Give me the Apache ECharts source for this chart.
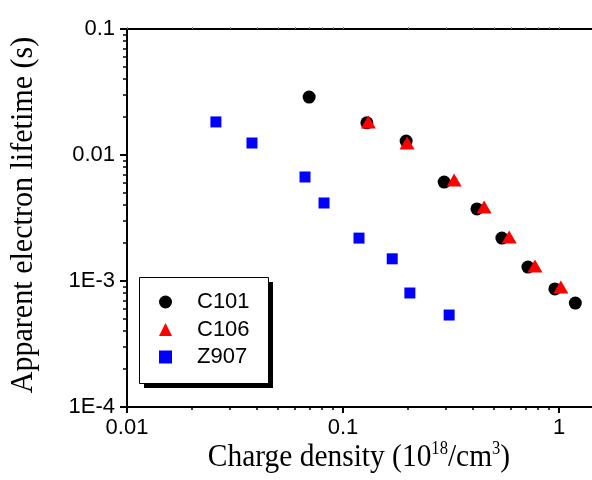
<!DOCTYPE html>
<html><head><meta charset="utf-8">
<script src="https://cdn.jsdelivr.net/npm/echarts@6/dist/echarts.min.js"></script>
<style>html,body{margin:0;padding:0;background:#fff}#c{width:592px;height:480px}</style>
</head><body><div id="c"></div>
<script>
// Data (charge density in 1e18/cm3, lifetime in s)
const c101X = [0.0697, 0.129, 0.196, 0.294, 0.417, 0.544, 0.718, 0.957, 1.19];
const c101Y = [0.0288, 0.0180, 0.0129, 0.0061, 0.00373, 0.00219, 0.00129, 0.000865, 0.000668];
const c106X = [0.131, 0.198, 0.327, 0.450, 0.588, 0.774, 1.02];
const c106Y = [0.0183, 0.01245, 0.00634, 0.00387, 0.00223, 0.001315, 0.000896];
const z907X = [0.0258, 0.0379, 0.0667, 0.0817, 0.1186, 0.169, 0.204, 0.310];
const z907Y = [0.0183, 0.01245, 0.00669, 0.00416, 0.00219, 0.0015, 0.000803, 0.000537];
const seriesNames = ['C101', 'C106', 'Z907'];
const yTickLabels = {'0.1': '0.1', '0.01': '0.01', '0.001': '1E-3', '0.0001': '1E-4'};
const xMinor = [0.02,0.03,0.04,0.05,0.06,0.07,0.08,0.09,0.2,0.3,0.4,0.5,0.6,0.7,0.8,0.9,2,3,4,5,6,7,8,9];
const yMinor = [0.0002,0.0003,0.0004,0.0005,0.0006,0.0007,0.0008,0.0009,0.002,0.003,0.004,0.005,0.006,0.007,0.008,0.009,0.02,0.03,0.04,0.05,0.06,0.07,0.08,0.09];

const pairs = (xs, ys) => xs.map((x, i) => [x, ys[i]]);
const chart = echarts.init(document.getElementById('c'), null, {renderer: 'canvas'});
const lblFont = {fontFamily: 'Liberation Sans, Arial', fontSize: 22, color: '#000'};
const line = {show: true, lineStyle: {color: '#000', width: 2}};
function yFmt(v) {
  const k = String(+v.toPrecision(3));
  return yTickLabels[k] !== undefined ? yTickLabels[k] : '';
}
function xFmt(v) {
  const s = String(+v.toPrecision(3));
  return s === '10' ? '' : s;
}
const serif = 'Liberation Serif, Times New Roman';
chart.setOption({
  animation: false,
  backgroundColor: '#fff',
  grid: {left: 127, top: 29, height: 378, width: 648, containLabel: false, outerBoundsMode: 'none'},
  xAxis: [
    {type: 'log', logBase: 10, min: 0.01, max: 10, position: 'bottom',
     axisLine: line, splitLine: {show: false},
     axisTick: {show: true, inside: false, length: 6, lineStyle: {width: 2, color: '#000'}},
     axisLabel: Object.assign({margin: 10, formatter: xFmt}, lblFont)},
    {type: 'log', logBase: 10, min: 0.01, max: 10, position: 'bottom',
     axisLine: {show: false}, splitLine: {show: false},
     axisTick: {show: true, length: 3, customValues: xMinor, lineStyle: {width: 1.5, color: '#000'}},
     axisLabel: {show: false}},
    {type: 'log', logBase: 10, min: 0.01, max: 10, position: 'top',
     axisLine: line, splitLine: {show: false},
     axisTick: {show: true, length: 2, customValues: [0.01,0.1,1].concat(xMinor), lineStyle: {width: 1, color: '#888'}},
     axisLabel: {show: false}}
  ],
  yAxis: [
    {type: 'log', logBase: 10, min: 0.0001, max: 0.1, position: 'left',
     axisLine: line, splitLine: {show: false},
     axisTick: {show: true, length: 7, lineStyle: {width: 2, color: '#000'}},
     axisLabel: Object.assign({margin: 12, formatter: yFmt}, lblFont)},
    {type: 'log', logBase: 10, min: 0.0001, max: 0.1, position: 'left',
     axisLine: {show: false}, splitLine: {show: false},
     axisTick: {show: true, length: 4, customValues: yMinor, lineStyle: {width: 1.5, color: '#000'}},
     axisLabel: {show: false}}
  ],
  legend: {
    orient: 'vertical', left: 139, top: 277, z: 10,
    data: seriesNames,
    padding: [14, 18, 13, 20],
    itemWidth: 13, itemHeight: 13, itemGap: 5.5,
    textStyle: {fontFamily: 'Liberation Sans, Arial', fontSize: 22, color: '#000', lineHeight: 22, padding: [0, 0, 0, 20]}
  },
  series: [
    {name: 'C101', type: 'scatter', symbol: 'circle', symbolSize: 13,
     itemStyle: {color: '#000', opacity: 1}, data: pairs(c101X, c101Y), z: 2},
    {name: 'C106', type: 'scatter', symbol: 'triangle', symbolSize: [15, 13],
     itemStyle: {color: '#ff0000', opacity: 1}, data: pairs(c106X, c106Y), z: 3},
    {name: 'Z907', type: 'scatter', symbol: 'rect', symbolSize: 11,
     itemStyle: {color: '#0000ff', opacity: 1}, data: pairs(z907X, z907Y), z: 2}
  ],
  graphic: [
    {type: 'rect', z: 5, shape: {x: 144, y: 282, width: 129, height: 106}, style: {fill: '#000'}},
    {type: 'rect', z: 6, shape: {x: 139.5, y: 277.5, width: 129, height: 106}, style: {fill: '#fff', stroke: '#000', lineWidth: 1}},
    {type: 'text', x: 359, y: 457, scaleX: 0.92,
     style: {text: '{n|Charge density (10}{s|18}{n|/cm}{s|3}{n|)}', align: 'center', verticalAlign: 'middle',
       rich: {n: {fontFamily: serif, fontSize: 32, fill: '#000', lineHeight: 34, verticalAlign: 'bottom'},
              s: {fontFamily: serif, fontSize: 18, fill: '#000', lineHeight: 34, verticalAlign: 'top'}}}},
    {type: 'text', x: 24, y: 215, rotation: Math.PI / 2, scaleX: 0.94,
     style: {text: 'Apparent electron lifetime (s)', fontFamily: serif, fontSize: 32,
       fill: '#000', align: 'center', verticalAlign: 'middle'}}
  ]
});
</script></body></html>
